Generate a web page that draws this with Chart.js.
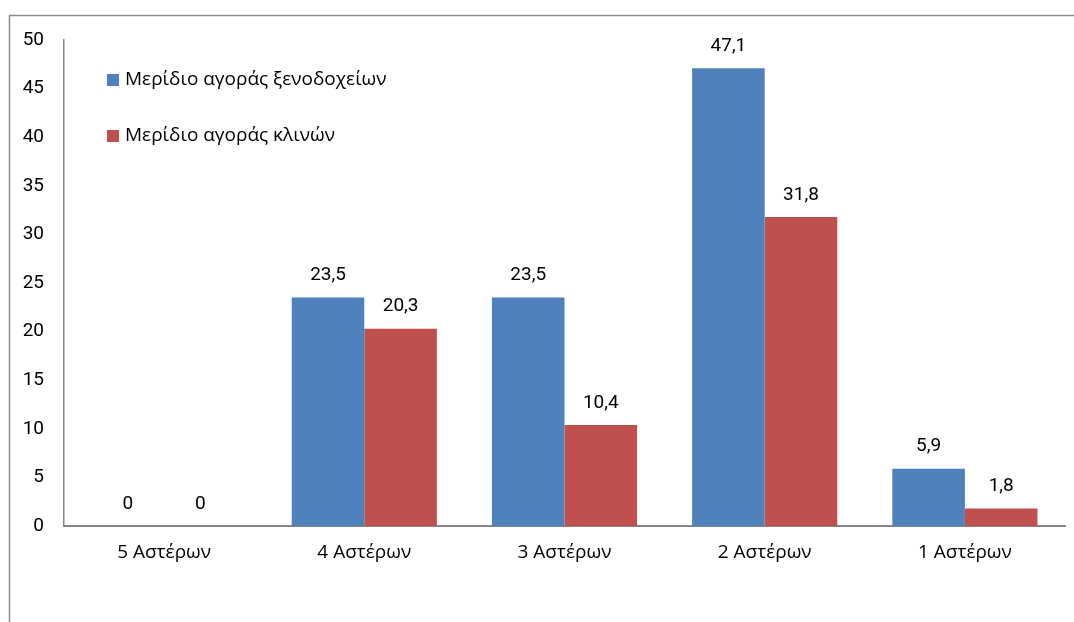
<!DOCTYPE html>
<html>
<head>
<meta charset="utf-8">
<script src="https://cdn.jsdelivr.net/npm/chart.js@4.4.1/dist/chart.umd.min.js"></script>
<style>
  html, body { margin: 0; padding: 0; background: #ffffff; }
  #wrap { position: relative; width: 1074px; height: 622px; }
  canvas { display: block; }
</style>
</head>
<body>
<div id="wrap"><canvas id="c" width="1074" height="622"></canvas></div>
<script>
// Hotel categories (by stars)
const categories = ['5 Αστέρων', '4 Αστέρων', '3 Αστέρων', '2 Αστέρων', '1 Αστέρων'];
// Market share of hotels (%)
const hotelShare = [0, 23.5, 23.5, 47.1, 5.9];
// Market share of beds (%)
const bedShare = [0, 20.3, 10.4, 31.8, 1.8];
const seriesNames = ['Μερίδιο αγοράς ξενοδοχείων', 'Μερίδιο αγοράς κλινών'];
const seriesColors = ['#4F81BD', '#C0504D'];
const yTicks = [0, 5, 10, 15, 20, 25, 30, 35, 40, 45, 50];

const numFamily = 'Roboto, "Liberation Sans", sans-serif';
const textFamily = '"Open Sans", "Noto Sans", sans-serif';
const numFont = '19px ' + numFamily;
const textFont = '19px ' + textFamily;

// Outer frame (top and left edges only)
const framePlugin = {
  id: 'frame',
  beforeDraw(chart) {
    const ctx = chart.ctx;
    ctx.save();
    ctx.strokeStyle = '#8c8c8c';
    ctx.lineWidth = 1.5;
    ctx.beginPath();
    ctx.moveTo(9.5, 622);
    ctx.lineTo(9.5, 15.5);
    ctx.lineTo(1074, 15.5);
    ctx.stroke();
    ctx.restore();
  }
};

// Values above each bar
const valueLabels = {
  id: 'valueLabels',
  afterDatasetsDraw(chart) {
    const ctx = chart.ctx;
    ctx.save();
    ctx.font = numFont;
    ctx.fillStyle = '#000000';
    ctx.textAlign = 'center';
    ctx.textBaseline = 'middle';
    chart.data.datasets.forEach((ds, i) => {
      chart.getDatasetMeta(i).data.forEach((bar, j) => {
        const txt = String(ds.data[j]).replace('.', ',');
        ctx.fillText(txt, bar.x, bar.y - 22);
      });
    });
    ctx.restore();
  }
};

// Legend stacked inside the plot, top-left
const innerLegend = {
  id: 'innerLegend',
  afterDraw(chart) {
    const ctx = chart.ctx;
    ctx.save();
    ctx.font = textFont;
    ctx.textBaseline = 'middle';
    ctx.textAlign = 'left';
    const ys = [80, 136];
    chart.data.datasets.forEach((ds, i) => {
      ctx.fillStyle = ds.backgroundColor;
      ctx.fillRect(107, ys[i] - 6, 12, 12);
      ctx.fillStyle = '#000000';
      ctx.fillText(ds.label, 125, ys[i]);
    });
    ctx.restore();
  }
};

new Chart(document.getElementById('c'), {
  type: 'bar',
  data: {
    labels: categories,
    datasets: [
      { label: seriesNames[0], data: hotelShare, backgroundColor: seriesColors[0] },
      { label: seriesNames[1], data: bedShare, backgroundColor: seriesColors[1] }
    ]
  },
  options: {
    responsive: false,
    animation: false,
    devicePixelRatio: 1,
    layout: { padding: { top: 40, right: 9, left: 0, bottom: 0 } },
    datasets: { bar: { categoryPercentage: 0.725, barPercentage: 1.0 } },
    plugins: { legend: { display: false }, tooltip: { enabled: false } },
    scales: {
      x: {
        grid: { display: false, drawTicks: false },
        border: { display: true, color: '#868686', width: 2 },
        ticks: { color: '#000000', font: { family: textFamily, size: 19 }, padding: 15 },
        afterFit(scale) { scale.height = 96; }
      },
      y: {
        min: 0,
        max: 50,
        afterBuildTicks(scale) { scale.ticks = yTicks.map(v => ({ value: v })); },
        grid: { display: false, drawTicks: false },
        border: { display: true, color: '#868686', width: 1.5 },
        ticks: { color: '#000000', font: { family: numFamily, size: 19 }, padding: 20 },
        afterFit(scale) { scale.width = 64; }
      }
    }
  },
  plugins: [framePlugin, valueLabels, innerLegend]
});
</script>
</body>
</html>
